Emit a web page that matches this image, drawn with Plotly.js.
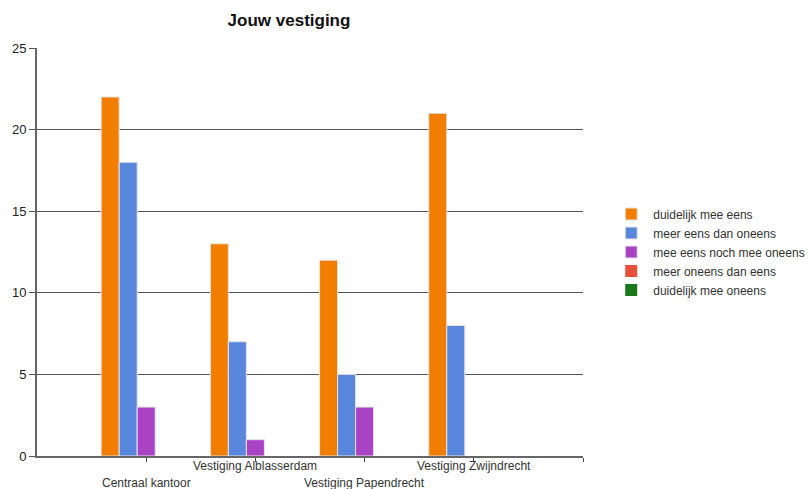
<!DOCTYPE html>
<html>
<head>
<meta charset="utf-8">
<script src="https://cdn.plot.ly/plotly-3.0.1.min.js"></script>
<style>html,body{margin:0;padding:0;background:#fff;}#chart{width:809px;height:489px;}</style>
</head>
<body>
<div id="chart"></div>
<script>
const categories = ["Centraal kantoor", "Vestiging Alblasserdam", "Vestiging Papendrecht", "Vestiging Zwijndrecht"];
const seriesNames = ["duidelijk mee eens", "meer eens dan oneens", "mee eens noch mee oneens", "meer oneens dan eens", "duidelijk mee oneens"];
const duidelijkMeeEens = [22, 13, 12, 21];
const meerEensDanOneens = [18, 7, 5, 8];
const meeEensNochMeeOneens = [3, 1, 3, 0];
const meerOneensDanEens = [0, 0, 0, 0];
const duidelijkMeeOneens = [0, 0, 0, 0];
const yTicks = [0, 5, 10, 15, 20, 25];

const seriesValues = [duidelijkMeeEens, meerEensDanOneens, meeEensNochMeeOneens, meerOneensDanEens, duidelijkMeeOneens];
const colors = ["#f27e00", "#5a87de", "#a843c6", "#e8503a", "#1a7a1a"];

const xIdx = categories.map((c, i) => i);
const traces = seriesValues.map((vals, s) => ({
  type: "bar",
  name: seriesNames[s],
  x: xIdx,
  y: vals,
  marker: {color: colors[s], line: {color: "#e4e4e4", width: vals.map(v => v > 0 ? 1 : 0)}},
  hoverinfo: "y"
}));

const annotations = categories.map((c, i) => ({
  text: c, x: i, xref: "x", y: 0, yref: "paper",
  yanchor: "middle", xanchor: "center", showarrow: false,
  yshift: i % 2 === 0 ? -27 : -10,
  font: {family: "Liberation Sans, Arial, sans-serif", size: 12, color: "#333"}
}));

const layout = {
  width: 809, height: 489,
  margin: {l: 37, r: 226, t: 48, b: 33, autoexpand: false},
  paper_bgcolor: "#fff", plot_bgcolor: "#fff",
  title: {text: "<b>Jouw vestiging</b>", x: 289 / 809, xanchor: "center", y: 1 - 20 / 489, yanchor: "middle",
          font: {family: "Liberation Sans, Arial, sans-serif", size: 17, color: "#111"}},
  barmode: "group",
  bargap: 0.175,
  bargroupgap: 0,
  xaxis: {
    range: [-1, 4], tickvals: [0, 1, 2, 3, 4], ticktext: ["", "", "", "", ""],
    showticklabels: false, ticks: "outside", ticklen: 4, tickcolor: "#444",
    showline: true, linecolor: "#666", linewidth: 2, showgrid: false, zeroline: false, fixedrange: true
  },
  yaxis: {
    range: [0, 25], tickvals: yTicks, ticks: "outside", ticklen: 6, tickcolor: "#555",
    showline: true, linecolor: "#666", linewidth: 2, showgrid: true, gridcolor: "#555", gridwidth: 1,
    zeroline: false, tickfont: {family: "Liberation Sans, Arial, sans-serif", size: 13, color: "#222"}
  },
  legend: {
    x: 1.048, xanchor: "left", y: 0.5, yanchor: "middle",
    font: {family: "Liberation Sans, Arial, sans-serif", size: 12, color: "#333"},
    itemwidth: 34, tracegroupgap: 0, bgcolor: "rgba(0,0,0,0)"
  },
  annotations: annotations,
  showlegend: true
};

Plotly.newPlot("chart", traces, layout, {displayModeBar: false, staticPlot: true});
</script>
</body>
</html>
